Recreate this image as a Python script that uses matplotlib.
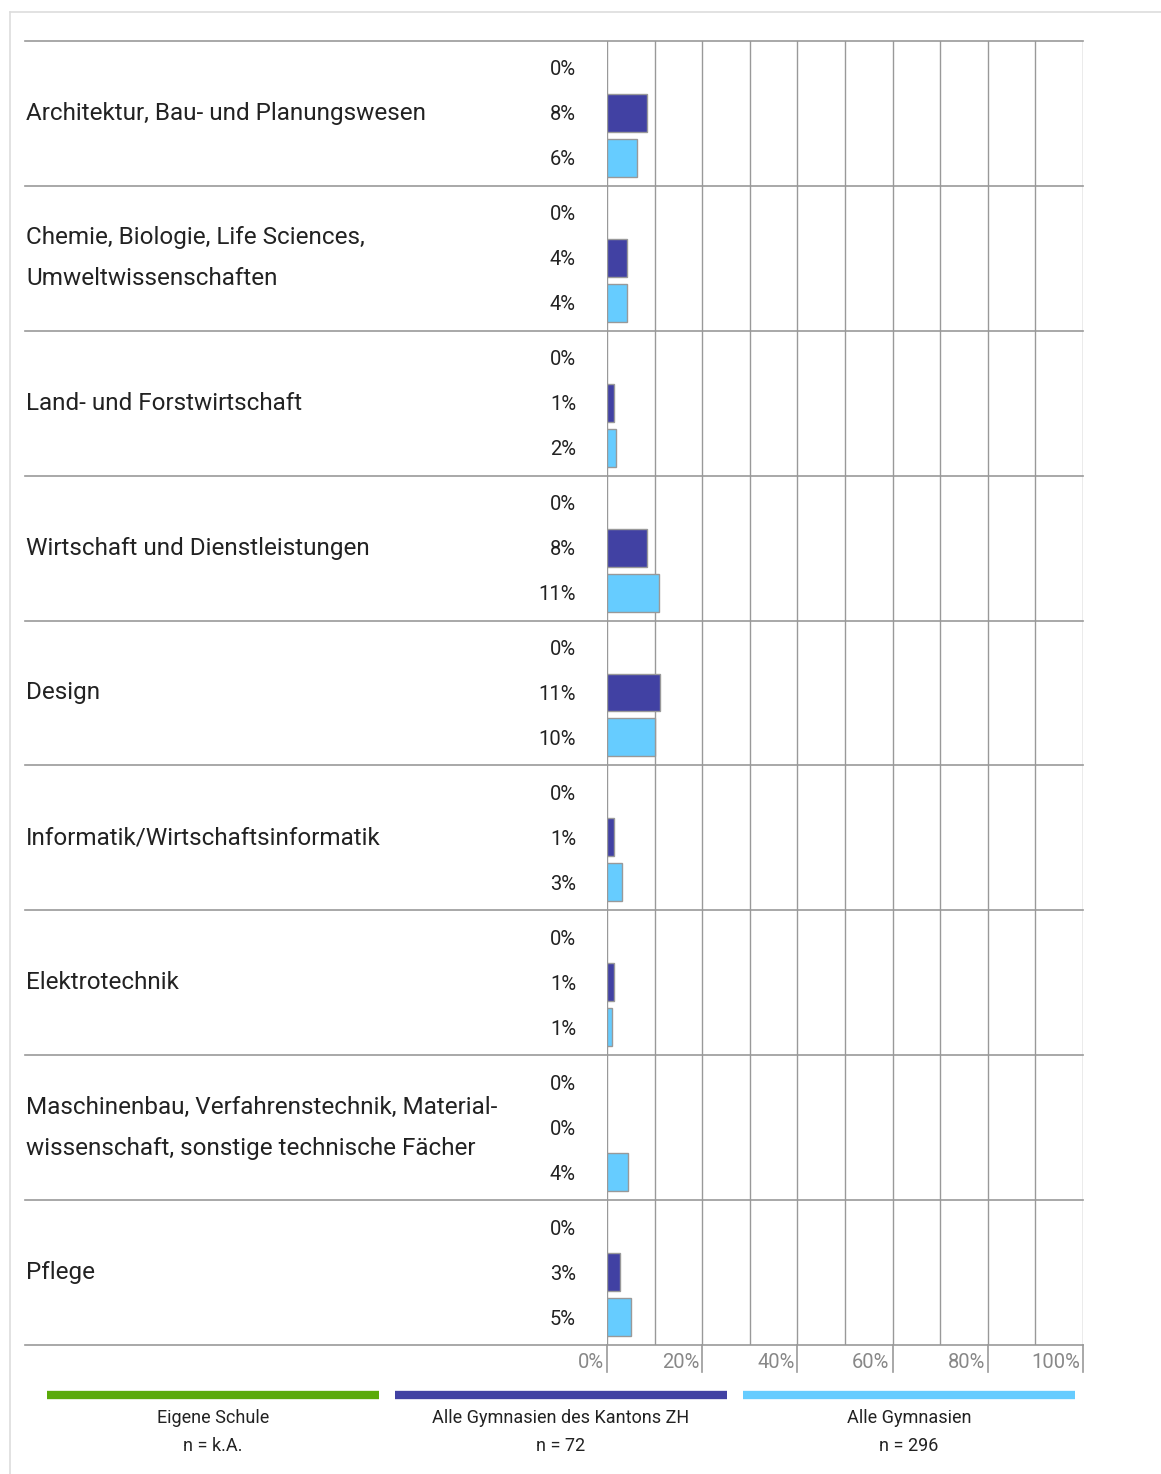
import numpy as np
import matplotlib
matplotlib.use("Agg")
from matplotlib import pyplot as plt
from matplotlib import transforms

plt.rcParams['font.family'] = ['Roboto', 'DejaVu Sans']

# data
categories = ["Architektur, Bau- und Planungswesen",
              "Chemie, Biologie, Life Sciences,\nUmweltwissenschaften",
              "Land- und Forstwirtschaft",
              "Wirtschaft und Dienstleistungen",
              "Design",
              "Informatik/Wirtschaftsinformatik",
              "Elektrotechnik",
              "Maschinenbau, Verfahrenstechnik, Material-\nwissenschaft, sonstige technische Fächer",
              "Pflege"]
eigene_schule = [0, 0, 0, 0, 0, 0, 0, 0, 0]
kanton_zh = [8.4, 4.2, 1.4, 8.4, 11.1, 1.4, 1.4, 0, 2.8]
alle_gym = [6.4, 4.1, 1.9, 10.9, 10.1, 3.2, 1.1, 4.4, 5.1]
series_names = ["Eigene Schule", "Alle Gymnasien des Kantons ZH", "Alle Gymnasien"]
series_n = ["n = k.A.", "n = 72", "n = 296"]
x_ticks = [0, 20, 40, 60, 80, 100]

colors = ["#5aaa0a", "#4141a3", "#66ccff"]
W, H = 1161, 1474
ROW = 145.0  # pixel height of one category row
offsets = [27 / ROW, 72 / ROW, 117 / ROW]
bar_h = 38 / ROW
grey = "#999999"
txt = "#222222"

fig = plt.figure(figsize=(W / 100, H / 100), dpi=100)

# outer frame lines (light)
fig.add_artist(plt.Line2D([10 / W, 1], [1 - 12 / H, 1 - 12 / H], color="#dddddd", lw=1.2))
fig.add_artist(plt.Line2D([10 / W, 10 / W], [0, 1 - 12 / H], color="#dddddd", lw=1.2))

ax = fig.add_axes([607 / W, 1 - 1345 / H, 476 / W, 1304 / H])
n = len(categories)
ax.set_xlim(0, 100)
ax.set_ylim(n, 0)
for s in ax.spines.values():
    s.set_visible(False)
ax.set_xticks(np.arange(0, 101, 10))
ax.set_yticks([])
ax.tick_params(axis='x', length=0, labelbottom=False)
ax.grid(axis='x', color=grey, lw=1)
ax.set_axisbelow(True)

values = [eigene_schule, kanton_zh, alle_gym]
for i in range(n):
    for k in range(3):
        v = values[k][i]
        y = i + offsets[k]
        if v > 0:
            ax.barh(y, v, height=bar_h, color=colors[k], edgecolor=grey, lw=1, zorder=3)
        ax.annotate(f"{round(v)}%", xy=(0, y), xytext=(-31, -2), textcoords='offset pixels',
                    ha='right', va='center', fontsize=14.5, color=txt, annotation_clip=False)
    ax.text(-582 / 476 * 100 + 0.2, i + 0.5, categories[i], ha='left', va='center',
            fontsize=17.5, color=txt, linespacing=2.0)

# horizontal separators reaching out to the labels
trans = transforms.blended_transform_factory(ax.transAxes, ax.transData)
for i in range(n + 1):
    ax.plot([-582 / 476, 1], [i, i], color=grey, lw=1.2, transform=trans, clip_on=False)

# bottom ticks
for t in x_ticks:
    ax.plot([t, t], [n, n + 27 / ROW], color=grey, lw=1.2, clip_on=False)
    ax.annotate(f"{t}%", xy=(t, n), xytext=(-3, -18), textcoords='offset pixels',
                ha='right', va='center', fontsize=14.5, color="#888888", annotation_clip=False)

# legend
leg_x = [(47, 379), (395, 727), (743, 1075)]
for k in range(3):
    x0, x1 = leg_x[k]
    fig.add_artist(plt.Line2D([x0 / W, x1 / W], [1 - 1395 / H, 1 - 1395 / H], color=colors[k], lw=6,
                              solid_capstyle='butt'))
    xc = (x0 + x1) / 2 / W
    fig.text(xc, 1 - 1418 / H, series_names[k], ha='center', va='center', fontsize=13, color=txt)
    fig.text(xc, 1 - 1446 / H, series_n[k], ha='center', va='center', fontsize=13, color=txt)

fig.savefig("out.png", dpi=100)
